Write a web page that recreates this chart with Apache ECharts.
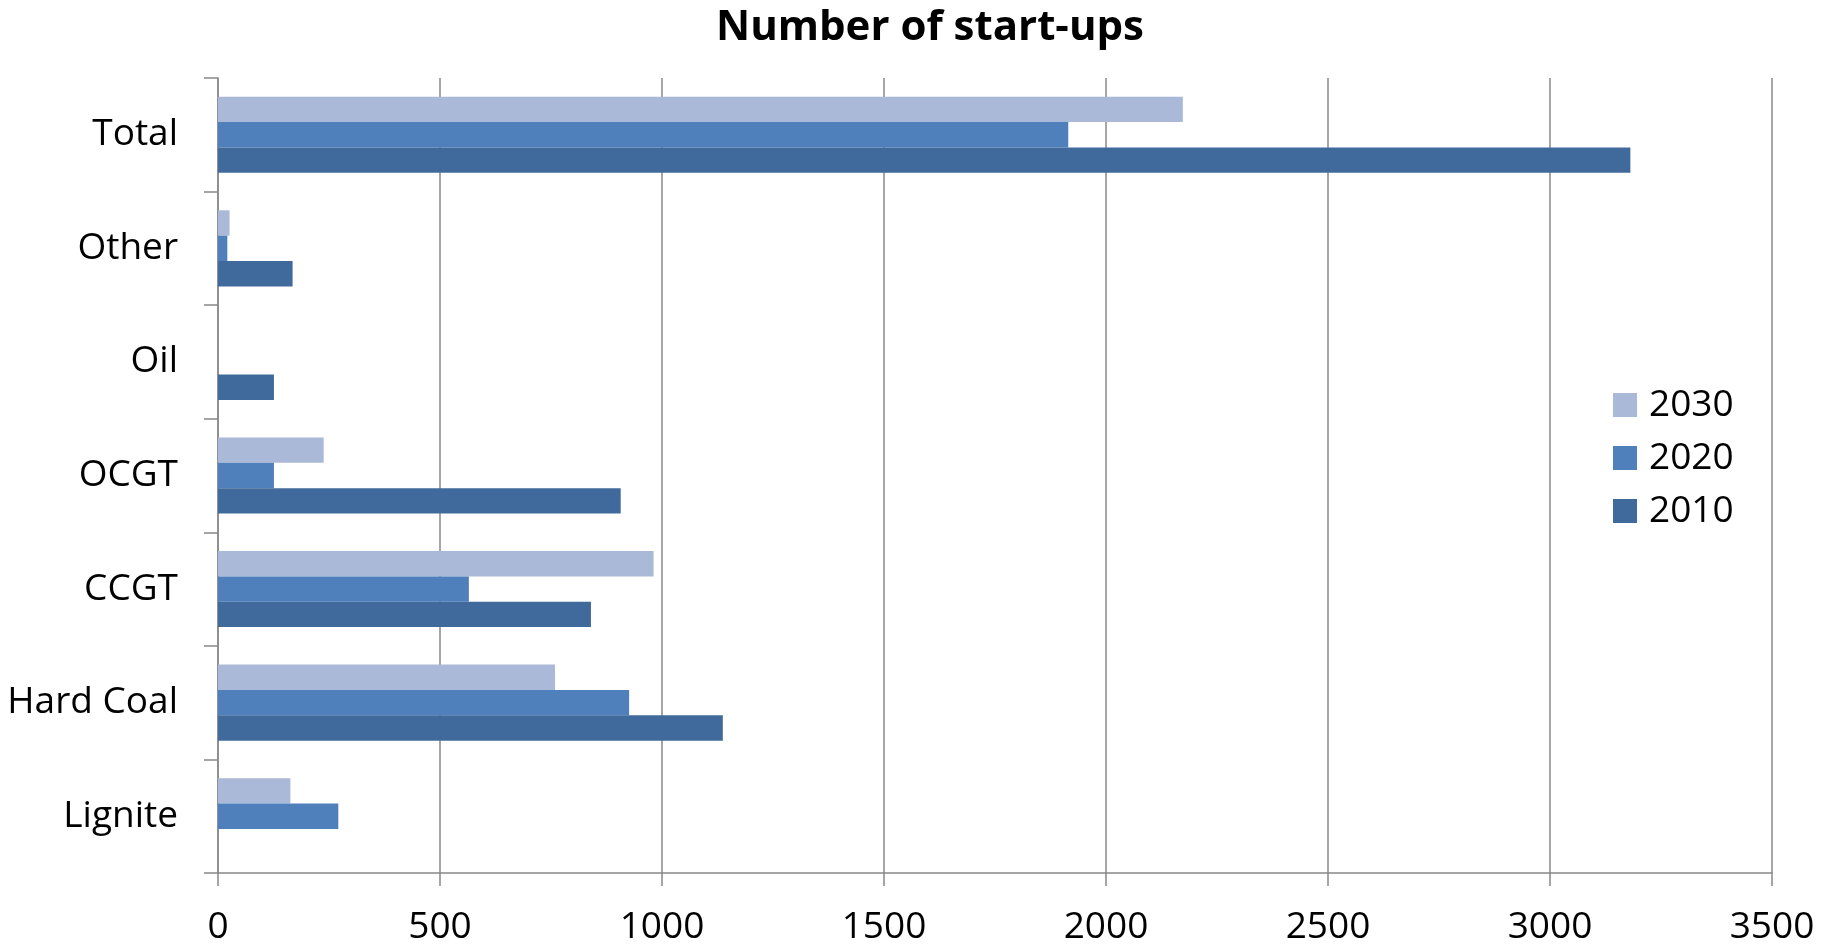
<!DOCTYPE html>
<html>
<head>
<meta charset="utf-8">
<title>Number of start-ups</title>
<script src="https://cdn.jsdelivr.net/npm/echarts@6/dist/echarts.min.js"></script>
<style>
  html, body { margin: 0; padding: 0; background: #ffffff; }
  #chart { width: 1833px; height: 946px; }
</style>
</head>
<body>
<div id="chart"></div>
<script>
// Plant categories, listed bottom to top along the vertical axis
const categories = ['Lignite', 'Hard Coal', 'CCGT', 'OCGT', 'Oil', 'Other', 'Total'];

// Start-up counts per year, same order as categories
const values2010 = [0, 1137, 840, 907, 126, 168, 3181];
const values2020 = [271, 926, 565, 126, 0, 21, 1915];
const values2030 = [163, 759, 981, 238, 0, 26, 2173];

// Series are stacked top to bottom inside each category band: 2030, 2020, 2010
const years = ['2030', '2020', '2010'];
const legendOrder = ['2030', '2020', '2010'];

// Value axis range and step
const axisMin = 0;
const axisMax = 3500;
const axisStep = 500;

const chartTitle = 'Number of start-ups';

const colors = { '2010': '#406a9b', '2020': '#4f80bc', '2030': '#aab9d7' };
const FONT = '"Open Sans", "Liberation Sans", sans-serif';
const GRID_GREY = '#888888';

const chart = echarts.init(document.getElementById('chart'), null, { renderer: 'canvas' });

const seriesValues = { '2010': values2010, '2020': values2020, '2030': values2030 };

chart.setOption({
  animation: false,
  backgroundColor: '#ffffff',
  textStyle: { fontFamily: FONT },
  graphic: [{
    type: 'text',
    x: 930,
    y: 28,
    style: {
      text: chartTitle,
      font: 'bold 42px ' + FONT,
      fill: '#000000',
      align: 'center',
      verticalAlign: 'middle'
    }
  }],
  legend: {
    orient: 'vertical',
    left: 1613,
    top: 385,
    padding: 0,
    itemWidth: 24,
    itemHeight: 24,
    itemGap: 13,
    icon: 'rect',
    data: legendOrder,
    textStyle: {
      fontFamily: FONT,
      fontSize: 37,
      lineHeight: 40,
      color: '#000000',
      padding: [0, 0, 0, 7]
    }
  },
  grid: {
    left: 218,
    right: 61,
    top: 78,
    bottom: 72,
    containLabel: false
  },
  xAxis: {
    type: 'value',
    min: axisMin,
    max: axisMax,
    interval: axisStep,
    axisLine: { show: true, lineStyle: { color: GRID_GREY, width: 1.5 } },
    axisTick: { show: true, length: 13, lineStyle: { color: GRID_GREY, width: 1.5 } },
    splitLine: { show: true, lineStyle: { color: GRID_GREY, width: 1.5 } },
    axisLabel: {
      fontFamily: FONT,
      fontSize: 37,
      color: '#000000',
      margin: 36,
      formatter: function (v) { return String(v); }
    }
  },
  yAxis: {
    type: 'category',
    data: categories,
    axisLine: { show: true, lineStyle: { color: GRID_GREY, width: 1.5 } },
    axisTick: { show: true, length: 14, lineStyle: { color: GRID_GREY, width: 1.5 } },
    splitLine: { show: false },
    axisLabel: {
      fontFamily: FONT,
      fontSize: 37,
      color: '#000000',
      margin: 40
    }
  },
  series: years.map(function (y) {
    return {
      name: y,
      type: 'bar',
      data: seriesValues[y],
      barGap: '0%',
      barCategoryGap: '33%',
      itemStyle: { color: colors[y] }
    };
  })
});
</script>
</body>
</html>
